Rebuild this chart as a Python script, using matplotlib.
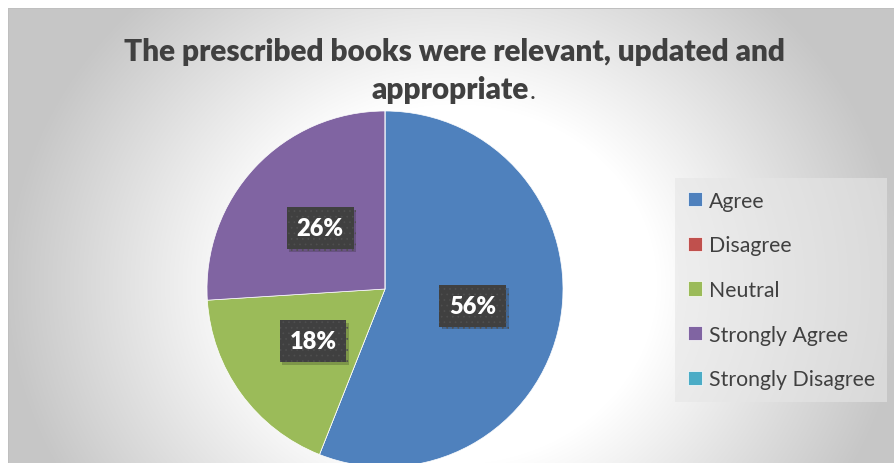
import numpy as np
import matplotlib
matplotlib.use("Agg")
from matplotlib import pyplot as plt
from matplotlib import patheffects

# data
categories = ["Agree", "Disagree", "Neutral", "Strongly Agree", "Strongly Disagree"]
shares = [56, 0, 18, 26, 0]
colors = ["#4F81BD", "#C0504D", "#9BBB59", "#8064A2", "#4BACC6"]
title_line1 = "The prescribed books were relevant, updated and"
title_line2 = "appropriate"

W, H = 894, 464
plt.rcParams['font.family'] = ['Lato', 'DejaVu Sans']
plt.rcParams['hatch.linewidth'] = 0.5

fig = plt.figure(figsize=(W/100, H/100), dpi=100)

# background: radial gradient like the excel chart area
bg = fig.add_axes([0, 0, 1, 1])
yy, xx = np.mgrid[0:H, 0:W]
d = np.sqrt(((xx-454)/450.0)**2 + ((yy-285)/400.0)**2)
t = np.clip((d-0.45)/0.55, 0, 1)
g = (255 - 57*t)/255.0
img = np.dstack([g, g, g])
img[:9, :, :] = 1.0
img[:, :8, :] = 1.0
img[9, 8:, :] = 0.75
img[9:, 8, :] = 0.75
bg.imshow(img, extent=(0, W, H, 0), interpolation="bilinear")
bg.set_xlim(0, W)
bg.set_ylim(H, 0)
bg.axis("off")

# pie, centre at (385,290) px, radius 178 px
cx, cy, R = 385, 290, 178
ax = fig.add_axes([0, 0, 1, 1])
ax.patch.set_alpha(0)
wedges, _, autotexts = ax.pie(shares, colors=colors, startangle=90, counterclock=False,
                              autopct=lambda p: "%d%%" % round(p) if p > 0 else "",
                              pctdistance=0.5,
                              wedgeprops=dict(edgecolor="white", linewidth=0.5))
ax.set_aspect("auto")
ax.set_xlim(-cx/R, (W-cx)/R)
ax.set_ylim((cy-H)/R, cy/R)
ax.axis("off")

for t_ in autotexts:
    t_.set_color("white")
    t_.set_fontsize(17)
    t_.set_fontweight("heavy")
    t_.set_bbox(dict(boxstyle="square,pad=0.42", facecolor="#404040",
                     edgecolor="#4f4f4f", linewidth=0, hatch="..."))
    bp = t_.get_bbox_patch()
    if bp is not None:
        bp.set_path_effects([patheffects.withSimplePatchShadow(offset=(2, -2), alpha=0.22)])

# title
fig.text(454/W, 1-61/H, title_line1, ha="center", va="baseline",
         fontsize=21.4, fontweight="heavy", color="#404040")
fig.text(529/W, 1-99/H, title_line2, ha="right", va="baseline",
         fontsize=21.4, fontweight="heavy", color="#404040")
fig.text(530/W, 1-99/H, ".", ha="left", va="baseline",
         fontsize=18, color="#404040")

leg = ax.legend(wedges, categories, loc="upper left",
                bbox_to_anchor=(675/W, 1-179/H), bbox_transform=fig.transFigure,
                borderaxespad=0, fontsize=15.3, labelspacing=1.16,
                handlelength=0.66, handleheight=0.66, handletextpad=0.32,
                borderpad=0.6, fancybox=False, frameon=True)
leg.get_frame().set_facecolor("#E6E6E6")
leg.get_frame().set_alpha(0.6)
leg.get_frame().set_linewidth(0)
for txt in leg.get_texts():
    txt.set_color("#404040")

fig.savefig("out.png", dpi=100)
